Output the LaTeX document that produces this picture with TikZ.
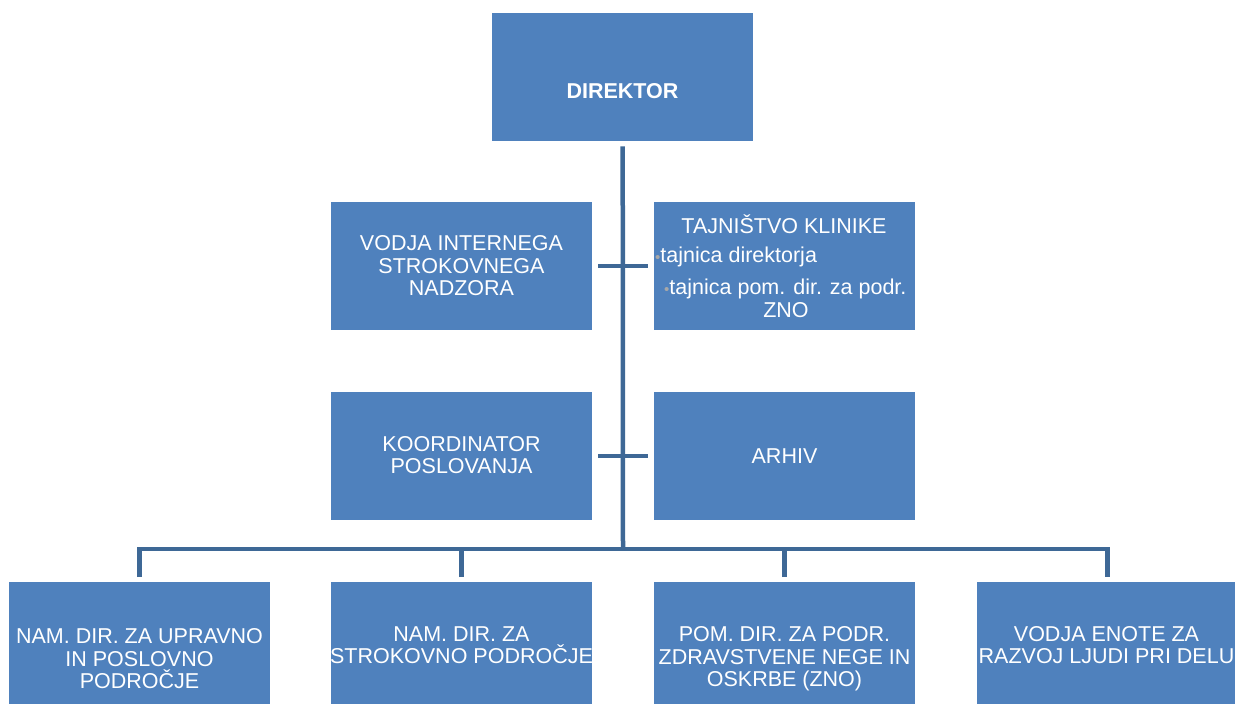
\documentclass[tikz,border=0pt]{standalone}
\usepackage{fontspec}
\setmainfont{Liberation Sans}
\definecolor{boxblue}{HTML}{4F81BD}
\definecolor{lineblue}{HTML}{3E6896}
\definecolor{bulgrey}{HTML}{A8A8A8}
\begin{document}
\begin{tikzpicture}[x=1pt,y=-1pt,
  box/.style={fill=boxblue,draw=none,minimum width=261pt,minimum height=128pt,inner sep=0pt,anchor=north west},
  lbl/.style={text=white,align=center,font=\fontsize{21.5}{22.5}\selectfont,inner sep=0pt},
  conn/.style={draw=lineblue,line width=4.5pt,line join=miter}]
\useasboundingbox (0,0) rectangle (1235,704);
\clip (0,0) rectangle (1235,704);
% boxes
\node[box] (dir) at (492,13) {};
\node[box] (vin) at (331,202) {};
\node[box] (taj) at (654,202) {};
\node[box] (koo) at (331,392) {};
\node[box] (arh) at (654,392) {};
\node[box] (b1) at (9,582) {};
\node[box] (b2) at (331,582) {};
\node[box] (b3) at (654,582) {};
\node[box] (b4) at (977,582) {};
% texts
\node[lbl,font=\fontsize{21.5}{22}\selectfont\bfseries] (tdir) at (622.5,91) {DIREKTOR};
\node[lbl] (tvin) at (461.5,266) {VODJA INTERNEGA\\STROKOVNEGA\\NADZORA};
\node[lbl] (ttaj) at (784,224) {TAJNIŠTVO KLINIKE};
\node[lbl,anchor=west] (ttaj1) at (655,257) {{\color{bulgrey}\fontsize{15}{15}\selectfont\textbullet}tajnica direktorja};
\node[lbl,anchor=west] (ttaj2) at (664,289) {{\color{bulgrey}\fontsize{15}{15}\selectfont\textbullet}tajnica pom. dir. za podr.};
\node[lbl] (ttaj3) at (786,310) {ZNO};
\node[lbl] (tkoo) at (461.5,455) {KOORDINATOR\\POSLOVANJA};
\node[lbl] (tarh) at (784.5,456) {ARHIV};
\node[lbl] (tb1) at (139.5,659) {NAM. DIR. ZA UPRAVNO\\IN POSLOVNO\\PODROČJE};
\node[lbl] (tb2) at (461.5,645) {NAM. DIR. ZA\\STROKOVNO PODROČJE};
\node[lbl] (tb3) at (784.5,659) {POM. DIR. ZA PODR.\\ZDRAVSTVENE NEGE IN\\OSKRBE (ZNO)};
\node[lbl] (tb4) at (1106.5,645) {VODJA ENOTE ZA\\RAZVOJ LJUDI PRI DELU};
% connectors
\coordinate (bus) at (623,549);
\draw[conn] ([yshift=-5pt]dir.south) -- (bus);
\draw[conn] ([yshift=5pt]b1.north) |- (bus) -| ([yshift=5pt]b4.north);
\draw[conn] ([yshift=5pt]b2.north) -- (b2.north |- bus);
\draw[conn] ([yshift=5pt]b3.north) -- (b3.north |- bus);
\draw[conn] ([xshift=6pt]vin.east) -- ([xshift=-6pt]taj.west);
\draw[conn] ([xshift=6pt]koo.east) -- ([xshift=-6pt]arh.west);
\end{tikzpicture}
\end{document}
